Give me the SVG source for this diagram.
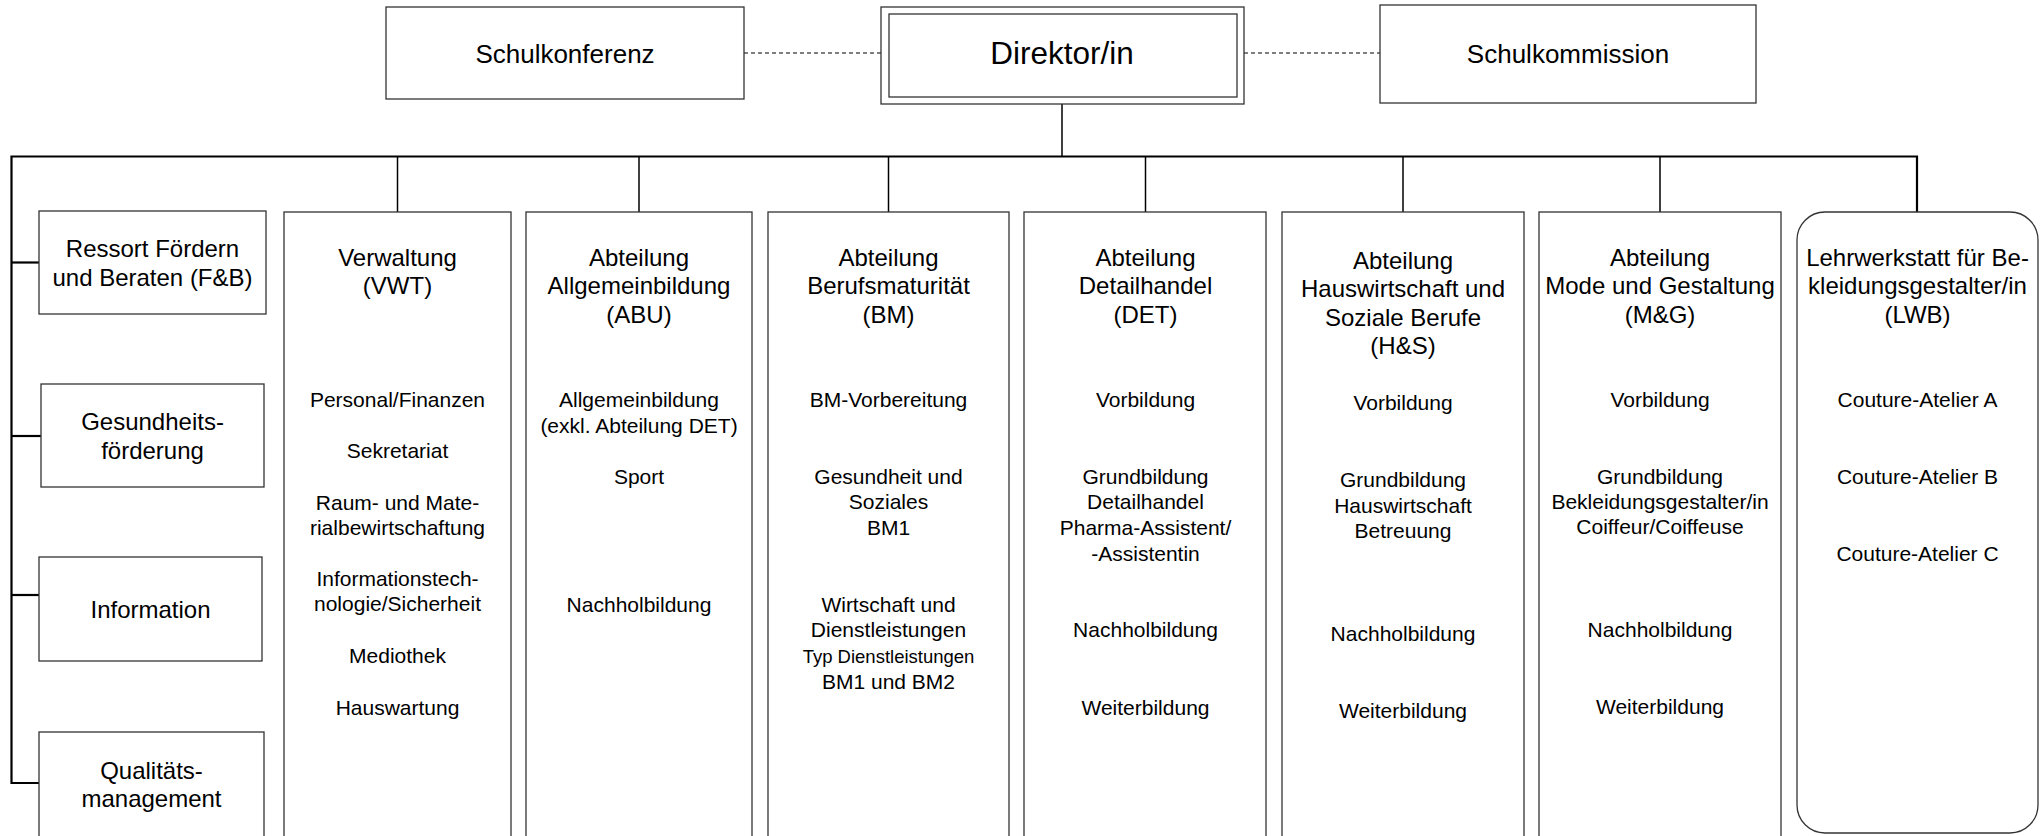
<svg xmlns="http://www.w3.org/2000/svg" width="2042" height="836" viewBox="0 0 2042 836">
<style>
text{font-family:"Liberation Sans",Arial,sans-serif;fill:#000;text-anchor:middle}
.box{fill:#fff;stroke:#333;stroke-width:1.3}
.h{font-size:24px}
.s{font-size:21px}
.t{font-size:18.5px}
.bus{stroke:#000;stroke-width:2.2;fill:none}
.drop{stroke:#000;stroke-width:1.5;fill:none}
.dash{stroke:#555;stroke-width:1.3;stroke-dasharray:4 3;fill:none}
</style>
<rect width="2042" height="836" fill="#fff"/>
<g id="connectors">
<line class="dash" x1="744" y1="53" x2="881" y2="53"/>
<line class="dash" x1="1244" y1="53" x2="1380" y2="53"/>
<line class="drop" x1="1062" y1="104" x2="1062" y2="156.5"/>
<polyline class="bus" points="1917,212 1917,156.5 11.5,156.5 11.5,783 39,783"/>
<line class="bus" x1="11.5" y1="262.5" x2="39" y2="262.5"/>
<line class="bus" x1="11.5" y1="436" x2="41" y2="436"/>
<line class="bus" x1="11.5" y1="595" x2="39" y2="595"/>
<line class="drop" x1="397.5" y1="156.5" x2="397.5" y2="212"/>
<line class="drop" x1="639" y1="156.5" x2="639" y2="212"/>
<line class="drop" x1="888.5" y1="156.5" x2="888.5" y2="212"/>
<line class="drop" x1="1145.5" y1="156.5" x2="1145.5" y2="212"/>
<line class="drop" x1="1403" y1="156.5" x2="1403" y2="212"/>
<line class="drop" x1="1660" y1="156.5" x2="1660" y2="212"/>
</g>
<g id="schulkonferenz">
<rect class="box" x="386" y="7" width="358" height="92"/>
<text x="565" y="62.5" style="font-size:26px">Schulkonferenz</text>
</g>
<g id="direktor">
<rect class="box" x="881" y="7" width="363" height="97"/>
<rect class="box" x="889" y="14" width="348" height="83"/>
<text x="1062" y="64" style="font-size:31.5px">Direktor/in</text>
</g>
<g id="schulkommission">
<rect class="box" x="1380" y="5" width="376" height="98"/>
<text x="1568" y="62.5" style="font-size:26px">Schulkommission</text>
</g>
<g id="ressort-fb">
<rect class="box" x="39" y="211" width="227" height="103"/>
<text class="h" x="152.5" y="256.5">Ressort Fördern</text>
<text class="h" x="152.5" y="285.5">und Beraten (F&amp;B)</text>
</g>
<g id="gesundheit">
<rect class="box" x="41" y="384" width="223" height="103"/>
<text class="h" x="152.5" y="429.5">Gesundheits-</text>
<text class="h" x="152.5" y="458.5">förderung</text>
</g>
<g id="information">
<rect class="box" x="39" y="557" width="223" height="104"/>
<text class="h" x="150.5" y="617.5">Information</text>
</g>
<g id="qualitaet">
<rect class="box" x="39" y="732" width="225" height="130"/>
<text class="h" x="151.5" y="778.5">Qualitäts-</text>
<text class="h" x="151.5" y="806.5">management</text>
</g>
<g id="vwt">
<rect class="box" x="284" y="212" width="227" height="650"/>
<text class="h" x="397.5" y="265.5">Verwaltung</text>
<text class="h" x="397.5" y="294">(VWT)</text>
<text class="s" x="397.5" y="406.5">Personal/Finanzen</text>
<text class="s" x="397.5" y="457.5">Sekretariat</text>
<text class="s" x="397.5" y="509.5">Raum- und Mate-</text>
<text class="s" x="397.5" y="534.5">rialbewirtschaftung</text>
<text class="s" x="397.5" y="585.5">Informationstech-</text>
<text class="s" x="397.5" y="610.5">nologie/Sicherheit</text>
<text class="s" x="397.5" y="662.5">Mediothek</text>
<text class="s" x="397.5" y="714.5">Hauswartung</text>
</g>
<g id="abu">
<rect class="box" x="526" y="212" width="226" height="650"/>
<text class="h" x="639" y="265.5">Abteilung</text>
<text class="h" x="639" y="294">Allgemeinbildung</text>
<text class="h" x="639" y="322.5">(ABU)</text>
<text class="s" x="639" y="406.5">Allgemeinbildung</text>
<text class="s" x="639" y="432.5">(exkl. Abteilung DET)</text>
<text class="s" x="639" y="483.5">Sport</text>
<text class="s" x="639" y="611.5">Nachholbildung</text>
</g>
<g id="bm">
<rect class="box" x="768" y="212" width="241" height="650"/>
<text class="h" x="888.5" y="265.5">Abteilung</text>
<text class="h" x="888.5" y="294">Berufsmaturität</text>
<text class="h" x="888.5" y="322.5">(BM)</text>
<text class="s" x="888.5" y="406.5">BM-Vorbereitung</text>
<text class="s" x="888.5" y="483.5">Gesundheit und</text>
<text class="s" x="888.5" y="508.5">Soziales</text>
<text class="s" x="888.5" y="534.5">BM1</text>
<text class="s" x="888.5" y="611.5">Wirtschaft und</text>
<text class="s" x="888.5" y="636.5">Dienstleistungen</text>
<text class="t" x="888.5" y="662.5">Typ Dienstleistungen</text>
<text class="s" x="888.5" y="688.5">BM1 und BM2</text>
</g>
<g id="det">
<rect class="box" x="1024" y="212" width="242" height="650"/>
<text class="h" x="1145.5" y="265.5">Abteilung</text>
<text class="h" x="1145.5" y="294">Detailhandel</text>
<text class="h" x="1145.5" y="322.5">(DET)</text>
<text class="s" x="1145.5" y="406.5">Vorbildung</text>
<text class="s" x="1145.5" y="483.5">Grundbildung</text>
<text class="s" x="1145.5" y="508.5">Detailhandel</text>
<text class="s" x="1145.5" y="534.5">Pharma-Assistent/</text>
<text class="s" x="1145.5" y="560.5">-Assistentin</text>
<text class="s" x="1145.5" y="636.5">Nachholbildung</text>
<text class="s" x="1145.5" y="714.5">Weiterbildung</text>
</g>
<g id="hs">
<rect class="box" x="1282" y="212" width="242" height="650"/>
<text class="h" x="1403" y="268.5">Abteilung</text>
<text class="h" x="1403" y="297">Hauswirtschaft und</text>
<text class="h" x="1403" y="325.5">Soziale Berufe</text>
<text class="h" x="1403" y="354">(H&amp;S)</text>
<text class="s" x="1403" y="409.5">Vorbildung</text>
<text class="s" x="1403" y="486.5">Grundbildung</text>
<text class="s" x="1403" y="512.5">Hauswirtschaft</text>
<text class="s" x="1403" y="537.5">Betreuung</text>
<text class="s" x="1403" y="640.5">Nachholbildung</text>
<text class="s" x="1403" y="717.5">Weiterbildung</text>
</g>
<g id="mg">
<rect class="box" x="1539" y="212" width="242" height="650"/>
<text class="h" x="1660" y="265.5">Abteilung</text>
<text class="h" x="1660" y="294">Mode und Gestaltung</text>
<text class="h" x="1660" y="322.5">(M&amp;G)</text>
<text class="s" x="1660" y="406.5">Vorbildung</text>
<text class="s" x="1660" y="483.5">Grundbildung</text>
<text class="s" x="1660" y="508.5">Bekleidungsgestalter/in</text>
<text class="s" x="1660" y="533.5">Coiffeur/Coiffeuse</text>
<text class="s" x="1660" y="636.5">Nachholbildung</text>
<text class="s" x="1660" y="713.5">Weiterbildung</text>
</g>
<g id="lwb">
<rect class="box" x="1797" y="212" width="241" height="621" rx="28" ry="28"/>
<text class="h" x="1917.5" y="265.5">Lehrwerkstatt für Be-</text>
<text class="h" x="1917.5" y="294">kleidungsgestalter/in</text>
<text class="h" x="1917.5" y="322.5">(LWB)</text>
<text class="s" x="1917.5" y="406.5">Couture-Atelier A</text>
<text class="s" x="1917.5" y="483.5">Couture-Atelier B</text>
<text class="s" x="1917.5" y="560.5">Couture-Atelier C</text>
</g>
</svg>
